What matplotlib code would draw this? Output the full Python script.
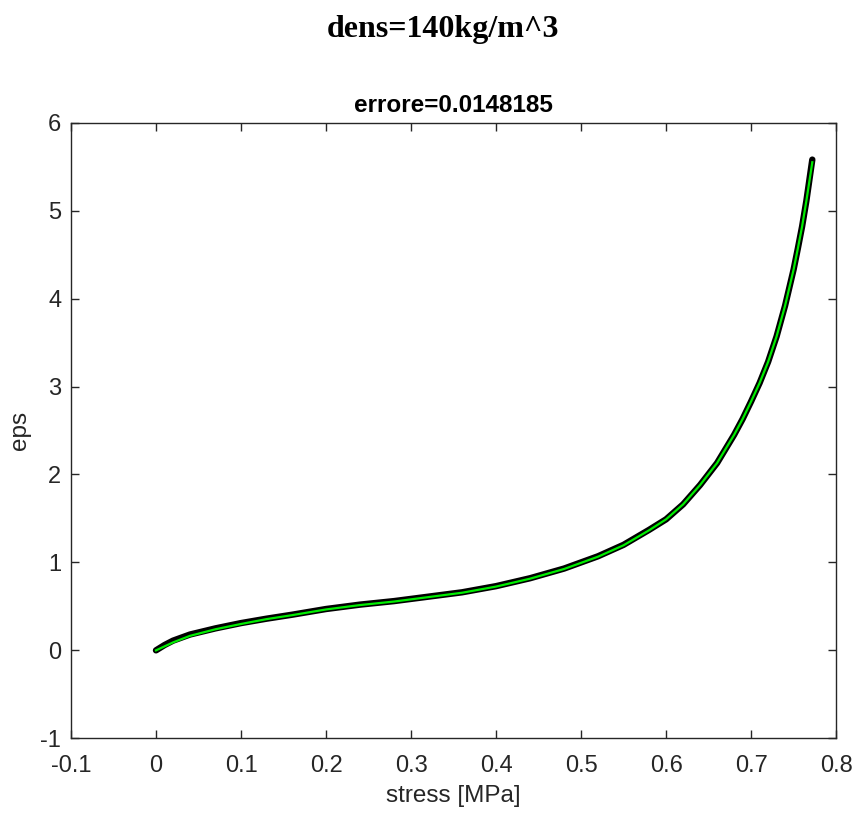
import numpy as np
import matplotlib.pyplot as plt

stress = [0, 0.01, 0.02, 0.04, 0.07, 0.10, 0.13, 0.16, 0.20, 0.24, 0.28, 0.32,
          0.36, 0.40, 0.44, 0.48, 0.52, 0.55, 0.58, 0.60, 0.62, 0.64, 0.66, 0.68,
          0.69, 0.70, 0.71, 0.72, 0.73, 0.74, 0.75, 0.755, 0.76, 0.765, 0.772]
eps = [0, 0.06, 0.11, 0.18, 0.25, 0.31, 0.36, 0.405, 0.47, 0.52, 0.56, 0.61,
       0.66, 0.73, 0.82, 0.93, 1.07, 1.20, 1.37, 1.49, 1.66, 1.88, 2.13, 2.45,
       2.63, 2.83, 3.04, 3.28, 3.57, 3.92, 4.33, 4.57, 4.82, 5.11, 5.58]

# fitted curve (green)
fit_stress = stress
fit_eps = [0, 0.045, 0.09, 0.165, 0.24, 0.30, 0.355, 0.40, 0.465, 0.515, 0.555, 0.605,
           0.655, 0.725, 0.815, 0.925, 1.065, 1.195, 1.365, 1.49, 1.66, 1.88, 2.13, 2.45,
           2.63, 2.83, 3.04, 3.28, 3.57, 3.92, 4.33, 4.57, 4.82, 5.11, 5.55]

xticks = [-0.1, 0, 0.1, 0.2, 0.3, 0.4, 0.5, 0.6, 0.7, 0.8]
xticklabels = ['-0.1', '0', '0.1', '0.2', '0.3', '0.4', '0.5', '0.6', '0.7', '0.8']
yticks = [-1, 0, 1, 2, 3, 4, 5, 6]
yticklabels = ['-1', '0', '1', '2', '3', '4', '5', '6']

ax_color = '#262626'
plt.rcParams['font.family'] = ['Liberation Sans', 'DejaVu Sans']

fig = plt.figure(figsize=(8.53, 8.14), dpi=100)
ax = fig.add_axes([0.0832, 0.093, 0.897, 0.7563])

ax.plot(stress, eps, color='black', lw=4.6, solid_capstyle='round', solid_joinstyle='round')
ax.plot(fit_stress, fit_eps, color='#00ee00', lw=1.6)

ax.set_xlim(-0.1, 0.8)
ax.set_ylim(-1, 6)
ax.set_xticks(xticks)
ax.set_xticklabels(xticklabels)
ax.set_yticks(yticks)
ax.set_yticklabels(yticklabels)
ax.tick_params(direction='in', length=6, width=1.0, top=True, right=True,
               labelsize=17, colors=ax_color)
ax.tick_params(axis='x', pad=12)
ax.tick_params(axis='y', pad=7)
for s in ax.spines.values():
    s.set_color(ax_color)
    s.set_linewidth(1.0)

ax.set_xlabel('stress [MPa]', fontsize=17.5, color=ax_color, labelpad=6)
ax.set_ylabel('eps', fontsize=17.5, color=ax_color)
ax.yaxis.set_label_coords(-0.052, 0.5)
ax.set_title('errore=0.0148185', fontsize=17.5, fontweight='bold', color='black', pad=8)

fig.text(0.519, 0.9545, 'dens=140kg/m^3', ha='center', va='baseline',
         fontsize=23, fontweight='bold', family='Liberation Serif')

fig.savefig('out.png', dpi=100)
